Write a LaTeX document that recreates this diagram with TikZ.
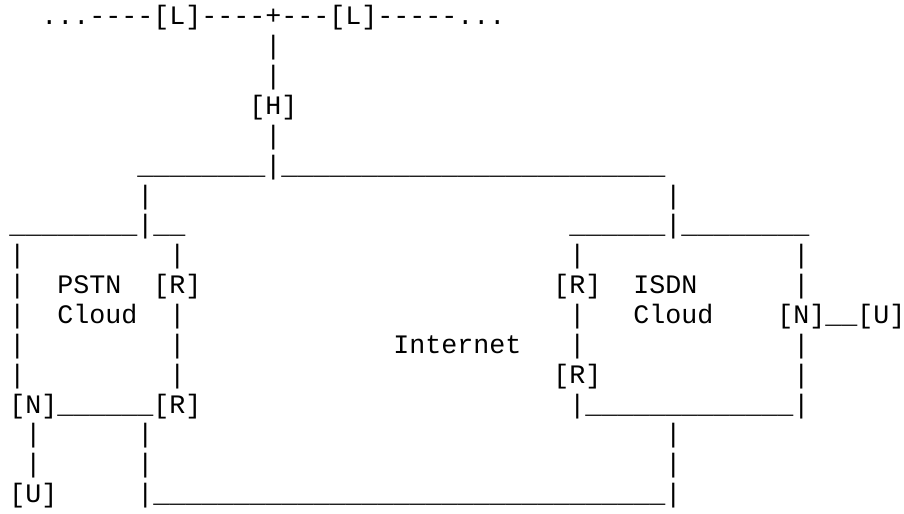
\documentclass[tikz,border=0pt]{standalone}
\usepackage{fontspec}
\newfontfamily\asciifont{Liberation Mono}
\newcommand{\lowrun}[1]{\foreach \k in {1,...,#1}{\_}}

\begin{document}
\begin{tikzpicture}[x=12pt,y=-22.3875pt,
  ascii/.style={anchor=base west,inner sep=0pt,font=\asciifont\fontsize{20pt}{24pt}\selectfont}]
        \useasboundingbox (-0.5625,-0.8375) rectangle (55.9375,16.382);

        \node[ascii] (wanW) at (2,0) {...----};
        \node[ascii] (lanA) at (9,0) {[L]};
        \node[ascii] (wanM) at (12,0) {----+---};
        \node[ascii] (lanB) at (20,0) {[L]};
        \node[ascii] (wanE) at (23,0) {-----...};

        \foreach \r in {1,2,4} \node[ascii] (up\r) at (16,\r) {|};
        \node[ascii] (hub) at (15,3) {[H]};
        \node[ascii] (busTop) at (8,5) {\lowrun{8}|\lowrun{24}};
        \node[ascii] (pstnUp) at (8,6) {|};
        \node[ascii] (isdnUp) at (41,6) {|};
        \node[ascii] (pstnTop) at (0,7) {\lowrun{8}|\lowrun{2}};
        \node[ascii] (isdnTop) at (35,7) {\lowrun{6}|\lowrun{8}};

        \foreach \r in {8,...,12} \node[ascii] (pW\r) at (0,\r) {|};
        \foreach \r in {8,10,11,12} \node[ascii] (pE\r) at (10,\r) {|};
        \foreach \r in {8,10,11} \node[ascii] (iW\r) at (35,\r) {|};
        \foreach \r in {8,9,11,12} \node[ascii] (iE\r) at (49,\r) {|};

        \node[ascii] (pstn) at (3,9) {PSTN};
        \node[ascii] (pstnCloud) at (3,10) {Cloud};
        \node[ascii] (rtrP1) at (9,9) {[R]};
        \node[ascii] (rtrI1) at (34,9) {[R]};
        \node[ascii] (isdn) at (39,9) {ISDN};
        \node[ascii] (isdnCloud) at (39,10) {Cloud};
        \node[ascii] (nasI) at (48,10) {[N]};
        \node[ascii] (linkI) at (51,10) {\lowrun{2}};
        \node[ascii] (userI) at (53,10) {[U]};
        \node[ascii] (inet) at (24,11) {Internet};
        \node[ascii] (rtrI2) at (34,12) {[R]};

        \node[ascii] (nasP) at (0,13) {[N]};
        \node[ascii] (linkP) at (3,13) {\lowrun{6}};
        \node[ascii] (rtrP2) at (9,13) {[R]};
        \node[ascii] (isdnBot) at (35,13) {|\lowrun{13}|};
        \foreach \r in {14,15} {
          \node[ascii] (userUp\r) at (1,\r) {|};
          \node[ascii] (pstnDn\r) at (8,\r) {|};
          \node[ascii] (isdnDn\r) at (41,\r) {|};
        }
        \node[ascii] (userP) at (0,16) {[U]};
        \node[ascii] (busBot) at (8,16) {|\lowrun{32}|};
\end{tikzpicture}
\end{document}
